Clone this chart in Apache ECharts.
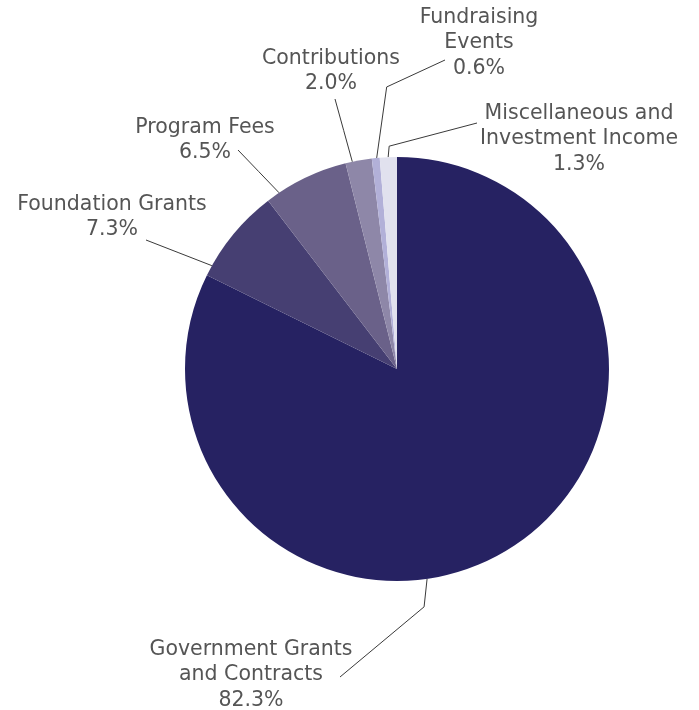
<!DOCTYPE html>
<html><head><meta charset="utf-8">
<script src="https://cdn.jsdelivr.net/npm/echarts@6/dist/echarts.min.js"></script>
<style>html,body{margin:0;padding:0;background:#fff}#c{width:699px;height:710px}</style>
</head><body><div id="c"></div>
<script>
// ---- data ----
const categories = ['Government Grants\nand Contracts', 'Foundation Grants', 'Program Fees', 'Contributions', 'Fundraising\nEvents', 'Miscellaneous and\nInvestment Income'];
const values = [82.3, 7.3, 6.5, 2.0, 0.6, 1.3];
const colors = ['#262262', '#463F72', '#6A6189', '#8E87A8', '#B2B0D8', '#E1E1EE'];

// ---- layout (annotation placement, not data) ----
const CX = 397, CY = 369, R = 212;
const labelPlacement = [
  { pos: [251, 675], end: [340, 677], frac: 0.58, bend: [-3, 28] },
  { pos: [112, 217], end: [146, 240], frac: 0.11 },
  { pos: [205, 140], end: [238, 150], frac: 0.156 },
  { pos: [331, 71],  end: [335, 99],  frac: 0.26 },
  { pos: [479, 43],  end: [445, 60],  frac: 0.62, bend: [10, -71] },
  { pos: [579, 139], end: [477, 123], frac: 0.49, bend: [1, -11] }
];

const total = values.reduce((a, b) => a + b, 0);
const cum = [];
values.reduce((acc, v, i) => { cum[i] = acc; return acc + v; }, 0);

const chart = echarts.init(document.getElementById('c'));
chart.setOption({
  animation: false,
  backgroundColor: '#ffffff',
  series: [{
    type: 'pie',
    center: [CX, CY],
    radius: R,
    startAngle: 90,
    clockwise: true,
    avoidLabelOverlap: false,
    emphasis: { disabled: true },
    data: categories.map((c, i) => ({ name: c, value: values[i], itemStyle: { color: colors[i] } })),
    label: {
      show: true,
      position: 'outside',
      formatter: p => p.name + '\n' + p.value.toFixed(1) + '%',
      fontFamily: 'DejaVu Sans',
      fontSize: 20.5,
      lineHeight: 25.5,
      color: '#555555',
      align: 'center'
    },
    labelLine: { show: true, lineStyle: { color: '#3a3a3a', width: 1 } },
    labelLayout: function (params) {
      const i = params.dataIndex;
      const lp = labelPlacement[i];
      const a = ((cum[i] + lp.frac * values[i]) / total) * 2 * Math.PI;
      const anchor = [CX + R * Math.sin(a), CY - R * Math.cos(a)];
      const mid = lp.bend
        ? [anchor[0] + lp.bend[0], anchor[1] + lp.bend[1]]
        : [(anchor[0] + lp.end[0]) / 2, (anchor[1] + lp.end[1]) / 2];
      return {
        x: lp.pos[0], y: lp.pos[1],
        align: 'center', verticalAlign: 'middle',
        labelLinePoints: [anchor, mid, lp.end]
      };
    }
  }]
});
</script></body></html>
